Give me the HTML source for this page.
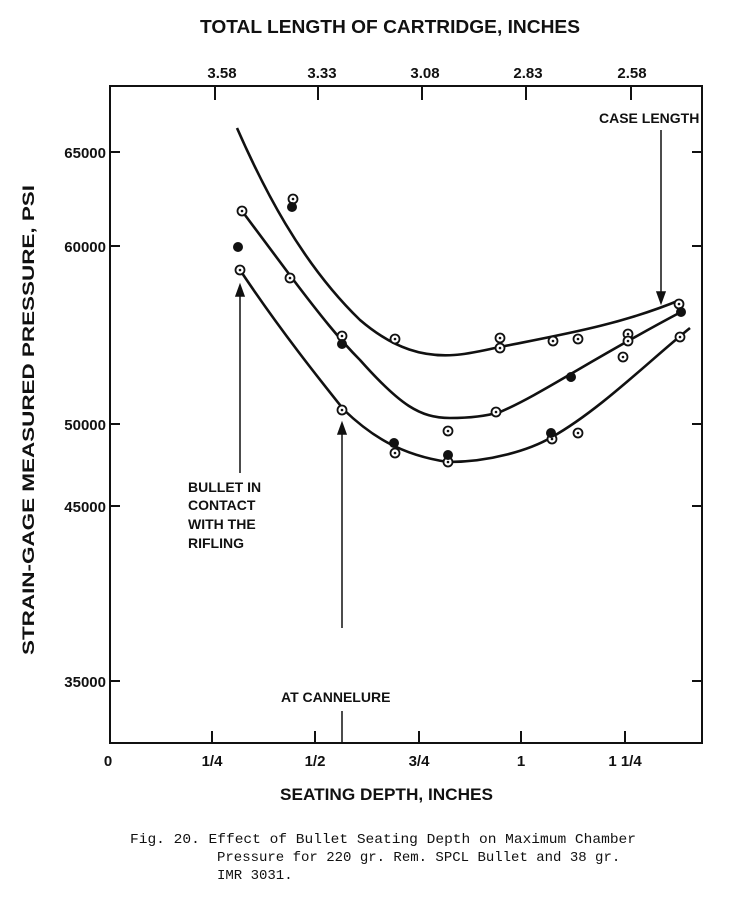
<!DOCTYPE html>
<html><head><style>
body{margin:0;background:#fff;}
svg text{font-family:"Liberation Sans",sans-serif;fill:#111;font-weight:bold;}
.c{font-family:"Liberation Mono",monospace !important;font-size:14px;font-weight:normal !important;}
</style></head><body>
<svg width="740" height="898" viewBox="0 0 740 898" xmlns="http://www.w3.org/2000/svg">
<rect width="740" height="898" fill="#fff"/>
<g stroke="#111" stroke-width="2" fill="none">
<rect x="110" y="86" width="592" height="657"/>
<path d="M212,743v-12M315,743v-12M419,743v-12M521,743v-12M625,743v-12"/>
<path d="M215,86v14M318,86v14M422,86v14M526,86v14M631,86v14"/>
<path d="M110,152h10M110,246h10M110,424h10M110,506h10M110,681h10M702,152h-10M702,246h-10M702,424h-10M702,506h-10M702,681h-10"/>
<path stroke-width="2.6" d="M237,128 C262,185 300,262 360,320 C395,350 425,357 454,355 C470,354 485,350 500,347 C560,335 620,325 680,300"/>
<path stroke-width="2.6" d="M242,211 L292,278 C320,315 340,340 360,360 C400,405 420,418 450,418 C475,418 490,415 500,412 C540,395 590,360 681,312"/>
<path stroke-width="2.6" d="M240,270 C280,330 320,380 344,410 C370,435 400,455 448,462 C490,462 530,450 552,437 C600,410 650,360 690,328"/>
</g>
<g stroke="#111" stroke-width="1.5" fill="#111">
<line x1="240" y1="473" x2="240" y2="292"/><path d="M236,296 L240,285 L244,296Z"/>
<line x1="342" y1="628" x2="342" y2="430"/><path d="M338,434 L342,423 L346,434Z"/>
<line x1="342" y1="711" x2="342" y2="743"/>
<line x1="661" y1="130" x2="661" y2="296"/><path d="M657,292 L661,303 L665,292Z"/>
</g>
<g stroke="#111" stroke-width="1.8" fill="#fff">
<circle cx="293" cy="199" r="4.5"/><circle cx="395" cy="339" r="4.5"/><circle cx="500" cy="338" r="4.5"/><circle cx="500" cy="348" r="4.5"/><circle cx="553" cy="341" r="4.5"/><circle cx="578" cy="339" r="4.5"/><circle cx="628" cy="334" r="4.5"/><circle cx="679" cy="304" r="4.5"/>
<circle cx="242" cy="211" r="4.5"/><circle cx="290" cy="278" r="4.5"/><circle cx="342" cy="336" r="4.5"/><circle cx="496" cy="412" r="4.5"/><circle cx="628" cy="341" r="4.5"/><circle cx="623" cy="357" r="4.5"/>
<circle cx="240" cy="270" r="4.5"/><circle cx="342" cy="410" r="4.5"/><circle cx="395" cy="453" r="4.5"/><circle cx="448" cy="462" r="4.5"/><circle cx="448" cy="431" r="4.5"/><circle cx="552" cy="439" r="4.5"/><circle cx="578" cy="433" r="4.5"/><circle cx="680" cy="337" r="4.5"/>
</g>
<g fill="#111">
<circle cx="293" cy="199" r="1.3"/><circle cx="395" cy="339" r="1.3"/><circle cx="500" cy="338" r="1.3"/><circle cx="500" cy="348" r="1.3"/><circle cx="553" cy="341" r="1.3"/><circle cx="578" cy="339" r="1.3"/><circle cx="628" cy="334" r="1.3"/><circle cx="679" cy="304" r="1.3"/>
<circle cx="242" cy="211" r="1.3"/><circle cx="290" cy="278" r="1.3"/><circle cx="342" cy="336" r="1.3"/><circle cx="496" cy="412" r="1.3"/><circle cx="628" cy="341" r="1.3"/><circle cx="623" cy="357" r="1.3"/>
<circle cx="240" cy="270" r="1.3"/><circle cx="342" cy="410" r="1.3"/><circle cx="395" cy="453" r="1.3"/><circle cx="448" cy="462" r="1.3"/><circle cx="448" cy="431" r="1.3"/><circle cx="552" cy="439" r="1.3"/><circle cx="578" cy="433" r="1.3"/><circle cx="680" cy="337" r="1.3"/>
<circle cx="292" cy="207" r="5"/><circle cx="342" cy="344" r="5"/><circle cx="571" cy="377" r="5"/><circle cx="681" cy="312" r="5"/>
<circle cx="238" cy="247" r="5"/><circle cx="394" cy="443" r="5"/><circle cx="448" cy="455" r="5"/><circle cx="551" cy="433" r="5"/>
</g>
<text x="200" y="33" font-size="18" textLength="380" lengthAdjust="spacingAndGlyphs">TOTAL LENGTH OF CARTRIDGE, INCHES</text>
<g font-size="15" text-anchor="middle">
<text x="222" y="78">3.58</text><text x="322" y="78">3.33</text><text x="425" y="78">3.08</text><text x="528" y="78">2.83</text><text x="632" y="78">2.58</text>
<text x="108" y="766">0</text><text x="212" y="766">1/4</text><text x="315" y="766">1/2</text><text x="419" y="766">3/4</text><text x="521" y="766">1</text><text x="625" y="766">1 1/4</text>
</g>
<g font-size="15" text-anchor="end">
<text x="106" y="158">65000</text><text x="106" y="252">60000</text><text x="106" y="430">50000</text><text x="106" y="512">45000</text><text x="106" y="687">35000</text>
</g>
<text x="280" y="800" font-size="17" textLength="213" lengthAdjust="spacingAndGlyphs">SEATING DEPTH, INCHES</text>
<text transform="translate(34,655) rotate(-90)" font-size="17" textLength="470" lengthAdjust="spacingAndGlyphs">STRAIN-GAGE MEASURED PRESSURE, PSI</text>
<g font-size="14">
<text x="599" y="123">CASE LENGTH</text>
<text x="188" y="492">BULLET IN</text><text x="188" y="510">CONTACT</text><text x="188" y="529">WITH THE</text><text x="188" y="548">RIFLING</text>
<text x="281" y="702">AT CANNELURE</text>
</g>
<text class="c" x="130" y="843" textLength="506" lengthAdjust="spacingAndGlyphs">Fig. 20.  Effect of Bullet Seating Depth on Maximum Chamber</text>
<text class="c" x="217" y="861">Pressure for 220 gr. Rem. SPCL Bullet and 38 gr.</text>
<text class="c" x="217" y="879">IMR 3031.</text>
</svg>
</body></html>
